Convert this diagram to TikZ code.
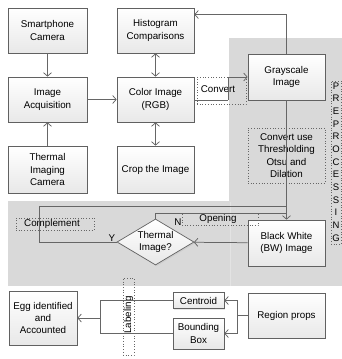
\documentclass[tikz,border=0pt]{standalone}
\usepackage{fontspec}
\setmainfont{Liberation Sans}
\usetikzlibrary{arrows.meta,shapes.geometric,shadows,calc}
\begin{document}
\begin{tikzpicture}[x=1pt,y=-1pt,
  txt/.style={font=\fontsize{9.8}{12.4}\selectfont, align=center},
  box/.style={txt, draw=black!62, line width=0.7pt, top color=white, bottom color=black!9,
    inner sep=1pt, drop shadow={shadow xshift=1.2pt, shadow yshift=-1.2pt, fill=black!30, opacity=0.3}},
  dotbox/.style={txt, draw=black!60, dotted, line width=0.7pt, inner sep=0pt},
  ln/.style={draw=black!60, line width=0.75pt},
  arr/.style={ln, -{Straight Barb[length=3.5pt,width=8pt]}},
  darr/.style={ln, {Straight Barb[length=3.5pt,width=8pt]}-{Straight Barb[length=3.5pt,width=8pt]}},
  lab/.style={txt, inner sep=0pt}
]
\useasboundingbox (0,0) rectangle (342,359);
% gray regions
\fill[black!15] (229,38) rectangle (342,286);
\fill[black!15] (8,201) rectangle (230,286);
\draw[black!11, line width=0.6pt] (230,202) -- (230,286);

% boxes
\node[box, minimum width=79pt, minimum height=45pt] (smart) at (47.5,30.5) {Smartphone\\Camera};
\node[box, minimum width=79pt, minimum height=45pt] (acq) at (47.5,99.5) {Image\\Acquisition};
\node[box, minimum width=79pt, minimum height=47pt] (therm) at (47.5,169.5) {Thermal\\Imaging\\Camera};
\node[box, minimum width=77pt, minimum height=45pt] (hist) at (155.5,30.5) {Histogram\\Comparisons};
\node[box, minimum width=77pt, minimum height=45pt] (color) at (155.5,99.5) {Color Image\\(RGB)};
\node[box, minimum width=77pt, minimum height=47pt] (crop) at (155.5,169.5) {Crop the Image};
\node[box, minimum width=77pt, minimum height=46pt] (gray) at (286.5,77) {Grayscale\\Image};
\node[box, minimum width=77pt, minimum height=46pt] (bw) at (286.5,243) {Black White\\(BW) Image};
\node[box, minimum width=77pt, minimum height=45pt] (reg) at (286.5,315.5) {Region props};
\node[box, minimum width=51pt, minimum height=16pt] (cen) at (198.5,300.5) {Centroid};
\node[box, minimum width=51pt, minimum height=31pt] (bbx) at (198.5,333.5) {Bounding\\Box};
\node[box, minimum width=68pt, minimum height=54pt] (egg) at (43,318) {Egg identified\\and\\Accounted};
\node[box, diamond, aspect=1.67, inner sep=0pt, minimum width=77pt, minimum height=46pt] (dia) at (155.5,242) {Thermal\\Image?};

% dotted label boxes
\node[dotbox, minimum width=49pt, minimum height=27pt] (cvb) at (221.5,90.5) {};
\node[lab] (cvt) at (218,89.5) {Convert};
\node[dotbox, minimum width=77pt, minimum height=55pt] (thr) at (286.5,155.5) {};
\node[lab] (thrt) at (286.5,155.5) {Convert use\\Thresholding\\Otsu and\\Dilation};
\node[dotbox, minimum width=10pt, minimum height=163pt] (pre) at (336,162.5) {};
\node[lab, font=\fontsize{9.5}{12.65}\selectfont] (pret) at (336,162) {P\\R\\E\\P\\R\\O\\C\\E\\S\\S\\I\\N\\G};
\node[dotbox, minimum width=78pt, minimum height=12pt] (cmp) at (55,224) {};
\node[lab] (cmpt) at (52,223.5) {Complement};
\node[dotbox, minimum width=76pt, minimum height=12pt] (opb) at (220,219.5) {};
\node[lab] (opt) at (218,219) {Opening};
\node[dotbox, minimum width=11pt, minimum height=77pt] (lbb) at (128.5,316.5) {};
\node[lab, rotate=90] (lbt) at (128.5,315) {Labeling};

\node[lab] (yl) at (112,238) {Y};
\node[lab] (nl) at (178,222) {N};

% coordinates
\coordinate (cj) at (228,100);
\coordinate (hk) at ($(hist.north east)!0.15!(hist.south east)$);
\coordinate (nj) at (286.5,213.5);
\coordinate (yc) at (39,206);
\coordinate (yj) at (286.5,206);
\coordinate (rb) at (237,315.5);
\coordinate (lb) at (100,318);

% connectors
\draw[arr] (smart) -- (acq);
\draw[arr] (therm) -- (acq);
\draw[arr] (acq) -- (color);
\draw[darr] (hist) -- (color);
\draw[darr] (color) -- (crop);
\draw[ln] (color.east |- cj) -- (cj);
\draw[arr] (cj) |- (gray.west);
\draw[arr] (gray.north) |- (hk);
\draw[arr] (gray) -- (bw);
\draw[arr] (bw) -- (dia);
\draw[ln] (dia.north) |- (nj);
\draw[ln] (dia.west) -| (yc) -- (yj);
\draw[ln] (reg.west) -- (rb);
\draw[arr] (rb) |- (cen.east);
\draw[arr] (rb) |- (bbx.east);
\draw[ln] (cen.west) -| (lb);
\draw[ln] (bbx.west) -| (lb);
\draw[arr] (lb) -- (egg.east);
\end{tikzpicture}
\end{document}
